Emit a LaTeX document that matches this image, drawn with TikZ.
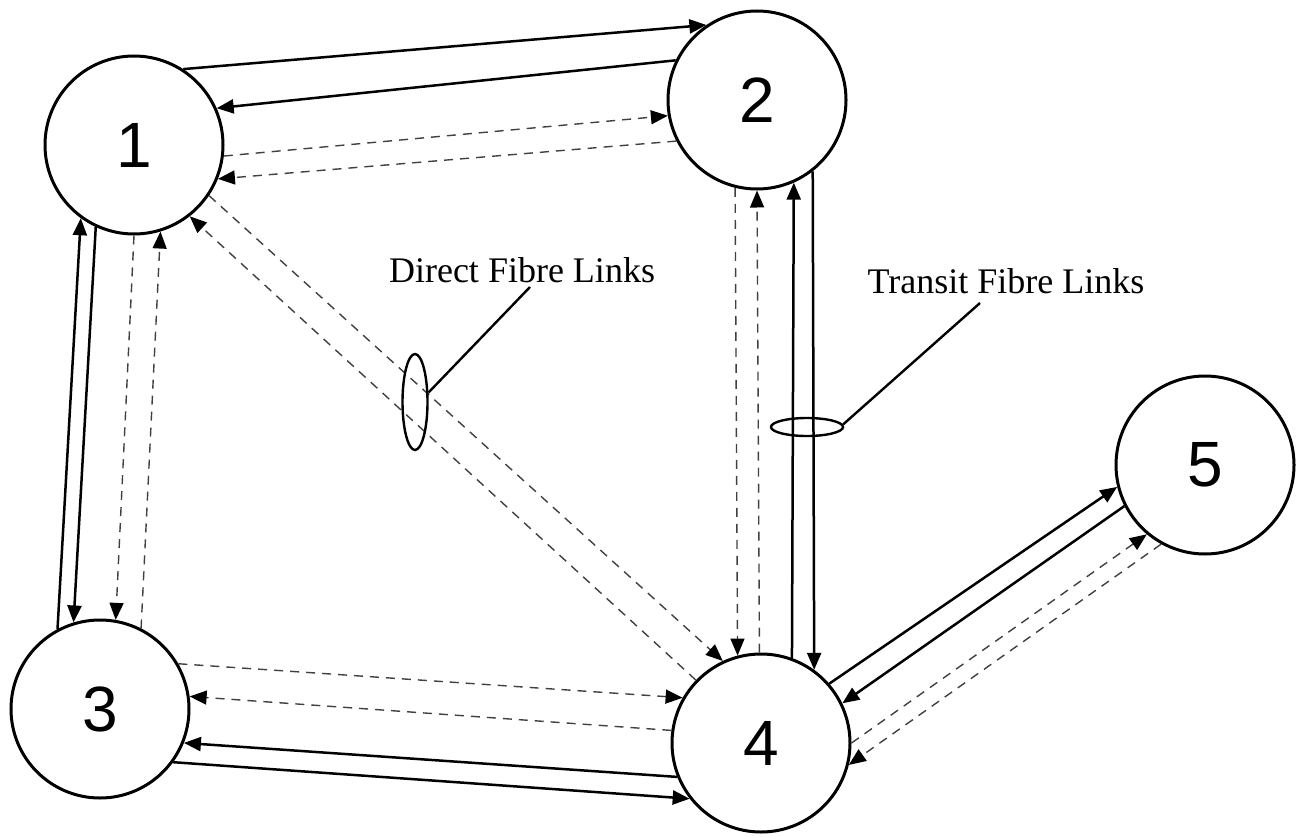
\documentclass[tikz,border=0pt]{standalone}
\usepackage{fontspec}
\setmainfont{Liberation Serif}
\setsansfont{Liberation Sans}
\usetikzlibrary{arrows.meta,shapes.geometric}
\tikzset{
  stn/.style={circle, draw, line width=3pt, minimum size=178pt, inner sep=0pt, fill=white,
    font=\fontsize{64}{64}\selectfont\sffamily},
  tipx/.style={-{Triangle[length=17pt,width=14pt,color=black]}},
  sol/.style={line width=2.5pt, tipx},
  dsh/.style={line width=1.4pt, black!75, dash pattern=on 9pt off 7pt, tipx},
  ring/.style={ellipse, draw, line width=2.4pt, inner sep=0pt},
  lead/.style={line width=2.4pt},
  lbl/.style={font=\fontsize{36}{40}\selectfont\rmfamily, anchor=base, inner sep=0pt}
}
\begin{document}
\begin{tikzpicture}[x=1pt,y=-1pt]
\useasboundingbox (0,0) rectangle (1303,837);
\coordinate (c1) at (134,145);
\coordinate (c2) at (757,100);
\coordinate (c3) at (100,709);
\coordinate (c4) at (761,743);
\coordinate (c5) at (1205,465);
\node[stn] (n1) at (c1) {1};
\node[stn] (n2) at (c2) {2};
\node[stn] (n3) at (c3) {3};
\node[stn] (n4) at (c4) {4};
\node[stn] (n5) at (c5) {5};

% 1 <-> 2
\draw[sol] (n1.57) -- (n2.124);
\draw[sol] (n2.154) -- (n1.24);
\draw[dsh] (n1.-7) -- (n2.190);
\draw[dsh] (n2.207) -- (n1.-22);
% 1 <-> 4 diagonal
\draw[dsh] (n1.-34) -- (n4.115);
\draw[dsh] (n4.136) -- (n1.-52);
% 1 <-> 3
\draw[sol] (n1.245) -- (n3.107);
\draw[sol] (n3.118) -- (n1.234);
\draw[dsh] (n1.270.6) -- (n3.80);
\draw[dsh] (n3.63) -- (n1.-73);
% 3 <-> 4
\draw[dsh] (n3.30) -- (n4.150);
\draw[dsh] (n4.172) -- (n3.8);
\draw[sol] (n4.202) -- (n3.-22);
\draw[sol] (n3.-36) -- (n4.218);
% 2 <-> 4
\draw[dsh] (n2.256.5) -- (n4.105);
\draw[dsh] (n4.91) -- (n2.270);
\draw[sol] (n4.70.5) -- (n2.-66.5);
\draw[sol] (n2.-52.5) -- (n4.54.5);
% 4 <-> 5
\draw[sol] (n4.41) -- (n5.194.6);
\draw[sol] (n5.207) -- (n4.26.3);
\draw[dsh] (n4.0) -- (n5.230);
\draw[dsh] (n5.241) -- (n4.-14);

% labels
\node[ring, minimum width=25pt, minimum height=96pt] (dfl) at (415,402) {};
\node[ring, minimum width=72pt, minimum height=18pt] (tfl) at (807,427) {};
\node[lbl] (dlab) at (522,282) {Direct Fibre Links};
\node[lbl] (tlab) at (1006,293) {Transit Fibre Links};
\coordinate (dend) at (530,287);
\coordinate (tend) at (980,303);
\draw[lead] (dfl.35) -- (dend);
\draw[lead] (tfl.4) -- (tend);
\end{tikzpicture}
\end{document}
